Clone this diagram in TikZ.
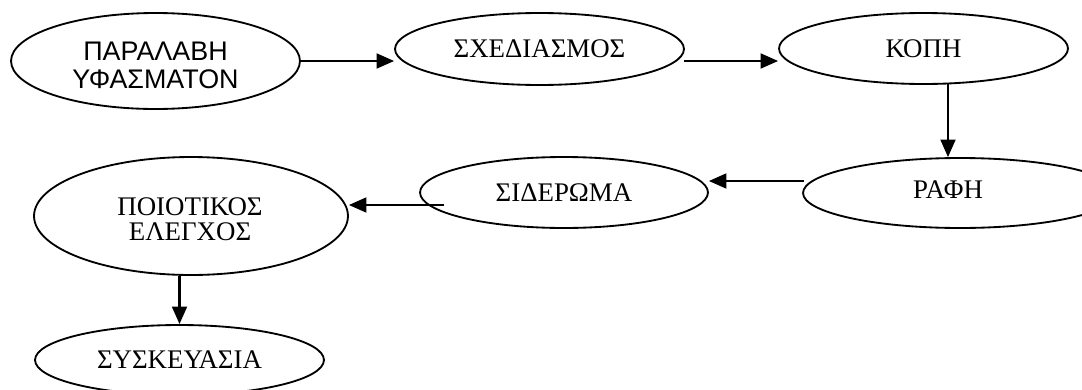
\documentclass[tikz,border=0pt]{standalone}
\usepackage{fontspec}
\setmainfont{Liberation Serif}
\newfontfamily\arialfont{Liberation Sans}
\usetikzlibrary{shapes.geometric,arrows.meta}

\begin{document}
\begin{tikzpicture}[
    x=0.02cm, y=-0.02cm,
    proc/.style={ellipse, draw, line width=1.05pt, fill=white, inner sep=0pt,
                 align=center, font=\fontsize{15.3}{14}\selectfont},
    lbl/.style={inner sep=0pt, font=\fontsize{15.3}{14}\selectfont},
    flow/.style={-{Triangle[length=10pt,width=8.5pt]}, line width=1.25pt}
  ]
  \useasboundingbox (0,0) rectangle (1082,389);
  \begin{scope}
  \clip (0,0) rectangle (1082,389);

  % process steps
  \node[proc, minimum width=5.78cm, minimum height=1.92cm,
        font=\arialfont\fontsize{15.3}{16}\selectfont]
        (parala) at (155.5,61) {};
  \node[lbl, align=center, font=\arialfont\fontsize{15.3}{16}\selectfont]
        (paralatext) at (155.5,65) {ΠΑΡΑΛΑΒΗ\\ΥΦΑΣΜΑΤΟΝ};
  \node[proc, minimum width=5.78cm, minimum height=1.44cm]
        (sxed) at (539.5,49) {ΣΧΕΔΙΑΣΜΟΣ};
  \node[proc, minimum width=5.78cm, minimum height=1.42cm]
        (kopi) at (923.5,48.5) {ΚΟΠΗ};
  \node[proc, minimum width=6.28cm, minimum height=1.40cm]
        (rafi) at (960,193) {};
  \node[lbl] (rafitext) at (948,190) {ΡΑΦΗ};
  \node[proc, minimum width=5.76cm, minimum height=1.42cm]
        (sider) at (564,192.5) {ΣΙΔΕΡΩΜΑ};
  \node[proc, minimum width=6.28cm, minimum height=2.36cm]
        (poiot) at (191,216) {};
  \node[lbl, align=center] (poiottext) at (190,219) {ΠΟΙΟΤΙΚΟΣ\\ΕΛΕΓΧΟΣ};
  \node[proc, minimum width=5.78cm, minimum height=1.40cm]
        (syskev) at (179.5,360) {ΣΥΣΚΕΥΑΣΙΑ};

  % connector start points
  \coordinate (sxedout) at (684,61);
  \coordinate (kopiout) at (948,84);
  \coordinate (rafiout) at (804,181);
  \coordinate (siderout) at (444,205);

  % flow between steps
  \draw[flow] (parala.east) -- (parala.east -| sxed.west);
  \draw[flow] (sxedout) -- (sxedout -| kopi.west);
  \draw[flow] (kopiout) -- (kopiout |- rafi.north);
  \draw[flow] (rafiout) -- (rafiout -| sider.east);
  \draw[flow] (siderout) -- (siderout -| poiot.east);
  \draw[flow] (poiot.south -| syskev.north) -- (syskev.north);
  \end{scope}
\end{tikzpicture}
\end{document}
